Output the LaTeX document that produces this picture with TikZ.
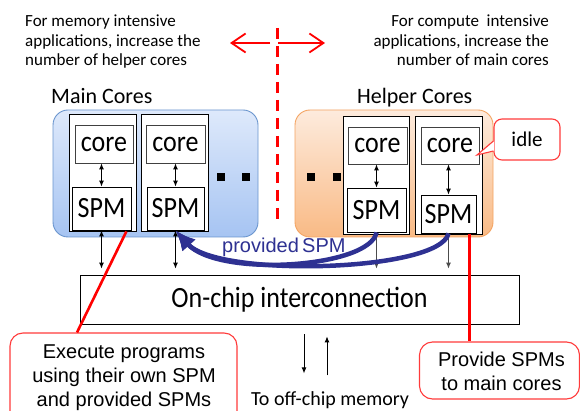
\documentclass[tikz,border=0pt]{standalone}
\usepackage{fontspec}
\usepackage{graphicx}
\setmainfont{Carlito}
\newfontfamily\arialf{Liberation Sans}
\usetikzlibrary{arrows.meta,shadows}
\definecolor{navy}{HTML}{2E3192}
\definecolor{bluetop}{HTML}{DEE9FB}
\definecolor{bluebot}{HTML}{A6C4F2}
\definecolor{blueedge}{HTML}{6A95CE}
\definecolor{orgtop}{HTML}{FDEBDD}
\definecolor{orgbot}{HTML}{F9BA85}
\definecolor{orgedge}{HTML}{F4A462}
\definecolor{callred}{HTML}{FF3B3B}
\newcommand{\tallt}[1]{\scalebox{1}[1.13]{#1}}
\tikzset{
  groupbox/.style={rounded corners=15pt, line width=0.9pt, inner sep=0pt},
  colbox/.style={draw=black, fill=white, line width=0.8pt, inner sep=0pt,
    drop shadow={shadow xshift=1.4pt, shadow yshift=-1.4pt, opacity=0.9, fill=black!55}},
  corebox/.style={draw=black!75, fill=white, line width=0.8pt, inner sep=0pt,
    font=\fontsize{26}{28}\selectfont},
  spmbox/.style={draw=black, fill=white, line width=0.8pt, inner sep=0pt,
    font=\fontsize{26}{28}\selectfont,
    drop shadow={shadow xshift=1.2pt, shadow yshift=-1.2pt, opacity=0.9, fill=black!55}},
  dbl/.style={{Latex[length=6pt,width=5pt]}-{Latex[length=6pt,width=5pt]}, line width=0.9pt},
  sgl/.style={-{Latex[length=6pt,width=5pt]}, line width=0.9pt},
  bluearr/.style={navy, line width=4.5pt, -{Latex[length=20pt,width=18pt]}},
  redline/.style={red, line width=2.6pt},
  redarr/.style={red, line width=1.8pt, -{Straight Barb[length=14pt,width=19pt,line width=1.8pt]}},
  callout/.style={draw=callred, fill=white, line width=1.1pt, rounded corners=13pt, inner sep=0pt},
  toptxt/.style={inner sep=0pt, font=\fontsize{17}{19.5}\selectfont},
}
\begin{document}
\begin{tikzpicture}[x=1pt,y=-1pt]
\useasboundingbox (0,0) rectangle (580,411);
\fill[white] (0,0) rectangle (580,411);

% top texts (base = last line)
\node[toptxt, anchor=base west, align=left] (tl) at (25,65.7)
  {For memory intensive\\applications, increase the\\number of helper cores};
\node[toptxt, anchor=base east, align=right] (tr) at (549,65.7)
  {For compute\ \ intensive\\applications, increase the\\number of main cores};

% divider and arrows
\coordinate (dtop) at (277,28);
\coordinate (dbot) at (277,225);
\draw[red, line width=3pt, dash pattern=on 11pt off 7pt] (dtop) -- (dbot);
\coordinate (al0) at (270,43);
\coordinate (al1) at (230,43);
\coordinate (ar0) at (278,43);
\coordinate (ar1) at (325,43);
\draw[redarr] (al0) -- (al1);
\draw[redarr] (ar0) -- (ar1);

% group boxes
\node[groupbox, draw=blueedge, top color=bluetop, bottom color=bluebot,
  minimum width=205pt, minimum height=127pt] (mainbox) at (155.5,173.5) {};
\node[groupbox, draw=orgedge, top color=orgtop, bottom color=orgbot,
  minimum width=198pt, minimum height=127pt] (helperbox) at (394,173.5) {};
\node[anchor=base west, inner sep=0pt, font=\fontsize{22}{24}\selectfont] (mainlbl) at (51,104) {Main Cores};
\node[anchor=base west, inner sep=0pt, font=\fontsize{22}{24}\selectfont] (helperlbl) at (357,104) {Helper Cores};

% columns
\node[colbox, minimum width=67pt, minimum height=117pt] (mcol1) at (102.5,172.5) {};
\node[colbox, minimum width=67pt, minimum height=117pt] (mcol2) at (174.5,172.5) {};
\node[colbox, minimum width=66pt, minimum height=118pt] (hcol1) at (376,175) {};
\node[colbox, minimum width=67pt, minimum height=118pt] (hcol2) at (448.5,175) {};

% cores and SPMs
\node[corebox, minimum width=58pt, minimum height=38pt] (mc1) at (104,144) {\tallt{core}};
\node[corebox, minimum width=59pt, minimum height=38pt] (mc2) at (175.5,144) {\tallt{core}};
\node[spmbox, minimum width=59pt, minimum height=43pt] (ms1) at (101.5,208.5) {\tallt{SPM}};
\node[spmbox, minimum width=57pt, minimum height=43pt] (ms2) at (175.5,208.5) {\tallt{SPM}};
\node[corebox, minimum width=59pt, minimum height=37pt] (hc1) at (377.5,145.5) {\tallt{core}};
\node[corebox, minimum width=58pt, minimum height=37pt] (hc2) at (450,145.5) {\tallt{core}};
\node[spmbox, minimum width=59pt, minimum height=44pt] (hs1) at (376.5,210) {\tallt{SPM}};
\node[spmbox, minimum width=55pt, minimum height=38pt] (hs2) at (448.5,214) {\tallt{SPM}};

% dots
\fill (216.5,173.5) rectangle (224.5,181.5);
\fill (242,173.5) rectangle (250,181.5);
\fill (307,173.5) rectangle (315,181.5);
\fill (333,173.5) rectangle (341,181.5);

% core-SPM arrows
\draw[dbl] (ms1.north |- mc1.south) -- (ms1.north);
\draw[dbl] (ms2.north |- mc2.south) -- (ms2.north);
\draw[dbl] (hs1.north |- hc1.south) -- (hs1.north);
\draw[dbl] (hs2.north |- hc2.south) -- (hs2.north);

% interconnect
\node[draw=black, line width=0.8pt, fill=white, minimum width=439pt, minimum height=49pt,
  inner sep=0pt, font=\fontsize{26}{28}\selectfont] (ic) at (299.5,299.5) {\tallt{On-chip interconnection}};

\draw[dbl, shorten >=6pt] (ms1.south) -- (ms1.south |- ic.north);
\draw[dbl, shorten >=6pt] (ms2.south) -- (ms2.south |- ic.north);
\draw[sgl, black!70, shorten >=6pt] (hs1.south) -- (hs1.south |- ic.north);
\draw[sgl, black!70, shorten >=6pt] (hs2.south) -- (hs2.south |- ic.north);

% provided SPM arrows
\draw[bluearr] (hs1.south) .. controls (370,268) and (218,278) .. (ms2.south);
\draw[bluearr] (hs2.south) .. controls (440,272) and (218,278) .. (ms2.south);
\node[anchor=base west, inner sep=0pt, text=navy, font=\arialf\fontsize{20}{22}\selectfont] (prov) at (222,253) {provided\,SPM};

% off-chip
\node[anchor=base, inner sep=0pt, font=\fontsize{20}{22}\selectfont] (off) at (330,405) {To off-chip memory};
\draw[sgl] ([xshift=4.5pt,yshift=-10pt]ic.south) -- ++(0,39);
\draw[sgl] ([xshift=27.5pt,yshift=-51pt]ic.south) -- ++(0,-39);

% callouts
\node[callout, minimum width=227pt, minimum height=92pt] (lc) at (123.5,379) {};
\node[anchor=base, inner sep=0pt, font=\arialf\fontsize{20}{24}\selectfont, align=center] (lct) at (124,406)
  {Execute programs\\using their own SPM\\and provided SPMs};
\node[callout, minimum width=160pt, minimum height=57pt] (rc) at (499.5,370.5) {};
\node[anchor=base, inner sep=0pt, font=\arialf\fontsize{20}{24}\selectfont, align=center] (rct) at (501.5,390)
  {Provide SPMs\\to main cores};

\coordinate (ll) at ([xshift=-10pt]mcol1.south east);
\draw[redline] (ll) -- ([xshift=-46.5pt]lc.north);
\coordinate (rl) at ([xshift=-13pt]hcol2.south east);
\draw[redline] (rl) -- (rl |- rc.north);

% idle callout
\node[draw=callred, fill=white, line width=1.1pt, rounded corners=8pt, inner sep=0pt,
  minimum width=66pt, minimum height=41pt, font=\fontsize{21}{23}\selectfont] (idle) at (527,139.5) {idle};
\coordinate (ip) at (477,155);
\fill[white] ([yshift=-1.5pt,xshift=0.6pt]idle.west) -- (ip) -- ([yshift=-11.5pt,xshift=0.6pt]idle.west) -- cycle;
\draw[callred, line width=1.1pt, line join=miter] ([yshift=-1.5pt]idle.west) -- (ip) -- ([yshift=-11.5pt]idle.west);
\end{tikzpicture}
\end{document}
